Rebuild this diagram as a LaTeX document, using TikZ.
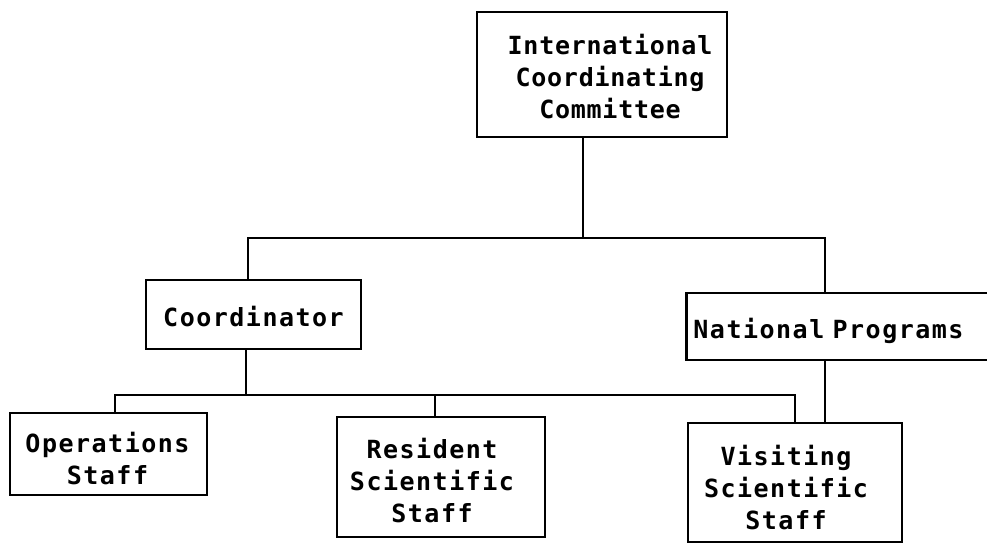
\documentclass[tikz,border=0pt]{standalone}
\usepackage{fontspec}
\setmonofont{DejaVu Sans Mono}
\newfontfamily\orgfont[LetterSpace=6]{DejaVu Sans Mono}
\newfontfamily\orgfonttop[LetterSpace=3]{DejaVu Sans Mono}
\newcommand\shiftR[3]{\hspace*{#1}\raisebox{-#2}[\height][\depth]{\begin{tabular}{@{}c@{}}#3\end{tabular}}}
\newcommand\shiftL[3]{\raisebox{-#2}[\height][\depth]{\begin{tabular}{@{}c@{}}#3\end{tabular}}\hspace*{#1}}
\begin{document}
\begin{tikzpicture}[x=1pt,y=-1pt,
  box/.style={draw, line width=2.8pt, rectangle, inner sep=0pt,
    font=\orgfont\bfseries\fontsize{25}{32}\selectfont},
  conn/.style={line width=2.8pt}]
\useasboundingbox (0,0) rectangle (987,546);
\clip (0,0) rectangle (987,546);
% boxes
\node[box, minimum width=250pt, minimum height=125pt,
  font=\orgfonttop\bfseries\fontsize{25}{32}\selectfont] (icc) at (602,74.5)
  {\shiftR{16pt}{6pt}{International\\Coordinating\\Committee}};
\node[box, minimum width=215pt, minimum height=69pt] (coord) at (253.5,314.5)
  {\raisebox{-2pt}[\height][\depth]{Coordinator}};
\node[box, anchor=west, minimum height=67pt, text width=300pt, inner xsep=7pt, align=left]
  (nat) at (685,326.5) {\raisebox{-4pt}[\height][\depth]{National Programs}};
\node[box, minimum width=197pt, minimum height=82pt] (ops) at (108.5,454)
  {\shiftL{2pt}{8pt}{Operations\\Staff}};
\node[box, minimum width=208pt, minimum height=120pt] (res) at (441,477)
  {\shiftL{18pt}{7pt}{Resident\\Scientific\\Staff}};
\node[box, minimum width=214pt, minimum height=119pt] (vis) at (795,482.5)
  {\shiftL{18pt}{9pt}{Visiting\\Scientific\\Staff}};
% junction coordinates
\coordinate (j1) at (583,238);
\coordinate (b1L) at (248,238);
\coordinate (b1R) at (825,238);
\coordinate (j2) at (246,395);
\coordinate (b2L) at (115,395);
\coordinate (b2M) at (435,395);
\coordinate (b2R) at (795,395);
% connectors
\draw[conn] (icc.south -| j1) -- (j1);
\draw[conn] (coord.north -| b1L) -- (b1L) -- (b1R) -- (nat.north -| b1R);
\draw[conn] (coord.south -| j2) -- (j2);
\draw[conn] (ops.north -| b2L) -- (b2L) -- (b2R) -- (vis.north -| b2R);
\draw[conn] (b2M) -- (res.north -| b2M);
\draw[conn] (nat.south -| b1R) -- (vis.north -| b1R);
\end{tikzpicture}
\end{document}
